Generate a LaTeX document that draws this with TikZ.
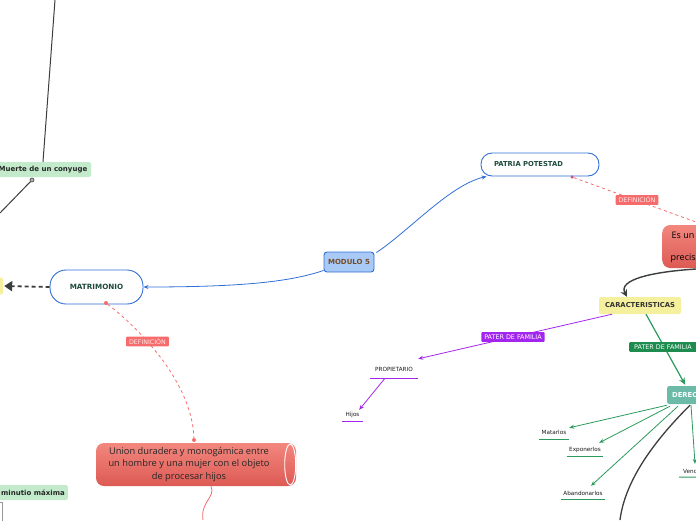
\documentclass[tikz,border=0pt]{standalone}
\usepackage{fontspec}
\setmainfont{DejaVu Sans}
\newfontfamily\osans{Open Sans}
\usetikzlibrary{arrows.meta}
\definecolor{bblue}{HTML}{2F6FD6}
\definecolor{mfill}{HTML}{A9C9F7}
\definecolor{dgreen}{HTML}{1E4A3A}
\definecolor{rlab}{HTML}{F66B6B}
\definecolor{rtop}{HTML}{F2877E}
\definecolor{rbot}{HTML}{DD5A54}
\definecolor{ylw}{HTML}{F4F09E}
\definecolor{prp}{HTML}{A326F0}
\definecolor{glab}{HTML}{1D8C4E}
\definecolor{gline}{HTML}{2A9A5C}
\definecolor{teal}{HTML}{6CBBA8}
\definecolor{lgreen}{HTML}{C3EBCB}
\definecolor{dgray}{HTML}{3A3F3C}
\begin{document}
\begin{tikzpicture}[x=1pt,y=-1pt,
  bluebox/.style={draw=bblue,line width=0.9pt,fill=white,rounded corners=11pt,text=dgreen,font=\bfseries\fontsize{7.2}{8}\selectfont,inner sep=0pt},
  modbox/.style={draw=bblue,line width=0.9pt,fill=mfill,rounded corners=3pt,text=brown!60!black,font=\bfseries\fontsize{7}{8}\selectfont,inner sep=0pt},
  greenbox/.style={fill=lgreen,rounded corners=2pt,text=black!85,font=\bfseries\fontsize{7}{8}\selectfont,inner xsep=3pt,inner ysep=0pt},
  ylwbox/.style={fill=ylw,rounded corners=2pt,text=black!80,font=\bfseries\fontsize{6.8}{8}\selectfont,inner sep=0pt},
  redbox/.style={top color=rtop,bottom color=rbot,draw=none,rounded corners=8pt,inner sep=0pt},
  rlabel/.style={fill=rlab,rounded corners=1pt,text=red!8,font=\fontsize{6.3}{7}\selectfont,inner xsep=3pt,inner ysep=2pt},
  plabel/.style={fill=prp,rounded corners=1pt,text=white,font=\fontsize{6.4}{7}\selectfont,inner xsep=3pt,inner ysep=2.5pt},
  glabel/.style={fill=glab,rounded corners=1pt,text=white!90,font=\fontsize{6.4}{7}\selectfont,inner xsep=5pt,inner ysep=2.5pt},
  leaf/.style={text=black!90,font=\fontsize{5.7}{6}\selectfont,inner sep=0pt},
  bline/.style={draw=bblue,line width=0.8pt,-{Stealth[length=5pt,width=4pt]}},
  darkline/.style={draw=dgray,line width=1pt},
  darkarrow/.style={draw=dgray,line width=1.4pt,-{Stealth[length=7pt,width=7pt]}},
  reddash/.style={draw=rlab,line width=0.8pt,dash pattern=on 3pt off 3pt},
  rdot/.style={circle,fill=rlab,minimum size=4pt,inner sep=0pt},
  parrow/.style={draw=prp,line width=0.8pt,-{Stealth[length=5pt,width=4pt]}},
  garrow/.style={draw=gline,line width=0.8pt,-{Stealth[length=5pt,width=4pt]}},
  garrowb/.style={draw=gline,line width=1.2pt,-{Stealth[length=7pt,width=6pt]}},
]
\useasboundingbox (0,0) rectangle (696,520);

% ---- left top
\node[greenbox,minimum width=96,minimum height=15] (muerte) at (43,169.5) {Muerte de un conyuge};
\node[circle,draw=dgray,fill=gray!60,minimum size=4pt,inner sep=0pt,line width=0.6pt] (mdot) at (32,180) {};
\coordinate (topend) at (55,0);
\coordinate (lowend) at (0,213);
\draw[darkline] (topend) -- (muerte.north);
\draw[darkline] (mdot) -- (lowend);

% ---- matrimonio
\node[bluebox,minimum width=93,minimum height=34,rounded corners=16pt] (mat) at (96.5,287) {MATRIMONIO};
\node[ylwbox,minimum width=20,minimum height=17] (yel) at (-7,286) {};
\draw[draw=dgray,line width=1.8pt,dash pattern=on 4pt off 3pt,-{Triangle[length=8pt,width=10pt]}] (mat.west) -- ([xshift=1pt]yel.east);

% ---- modulo 5
\node[modbox,minimum width=50,minimum height=20] (mod) at (349,262) {MODULO 5};
\node[bluebox,minimum width=118,minimum height=23,text width=92,align=left,font=\bfseries\fontsize{6.8}{8}\selectfont] (pp) at (540,164.5) {PATRIA POTESTAD};
\draw[bline] ([yshift=2pt]mod.south west) .. controls (290,282) and (240,287) .. (mat.east);
\draw[bline] ([xshift=2pt,yshift=-1pt]mod.north east) .. controls (410,230) and (450,185) .. ([xshift=6pt]pp.south west);

% ---- definicion matrimonio
\node[rdot] (d1a) at (106,303) {};
\node[rdot] (d1b) at (194,440) {};
\draw[reddash] (d1a) .. controls (135,325) and (192,380) .. (d1b);
\node[rlabel] (def1) at (147.5,341.5) {DEFINICIÓN};

% ---- union box
\node[redbox,minimum width=200,minimum height=43] (union) at (196,464.5) {};
\draw[white,line width=0.9pt] ([xshift=-6pt]union.east) ellipse (5.5 and 20.5);
\node[font=\osans\fontsize{9.3}{12.4}\selectfont,text=black!85,align=center,inner sep=0pt] (utext) at (189,464.5) {Union duradera y monogámica entre\\un hombre y una mujer con el objeto\\de procesar hijos};
\coordinate (sqend) at (203,520);
\draw[draw=rlab,line width=0.8pt] ([xshift=15pt]union.south) .. controls (216,497) and (200,502) .. (sqend);

% ---- minutio
\node[greenbox,anchor=east,minimum height=15] (minu) at (68,492.5) {minutio máxima};
\node[draw=gray!80,line width=1pt,fill=white,minimum width=20,minimum height=30,anchor=north east,inner sep=0pt] (gbox) at (2.5,502) {};

% ---- patria potestad definicion
\node[rdot,minimum size=3.5pt,fill=rlab!80!blue] (d2a) at (572,177) {};
\coordinate (d2b) at (696,222);
\draw[reddash] (d2a) -- (d2b);
\node[rlabel] (def2) at (637,200) {DEFINICIÓN};

% ---- es un box
\node[redbox,anchor=west,minimum width=50,minimum height=43] (esun) at (662,246.5) {};
\node[font=\osans\fontsize{9}{10}\selectfont,anchor=west,inner sep=0pt] (es1) at (671.5,235) {Es un};
\node[font=\osans\fontsize{9}{10}\selectfont,anchor=west,inner sep=0pt] (es2) at (670.5,258) {precis};

% ---- caracteristicas
\node[ylwbox,minimum width=82,minimum height=17] (car) at (640,305.5) {CARACTERISTICAS};
\coordinate (ccstart) at (696,269);
\draw[darkarrow] (ccstart) .. controls (650,272) and (618,280) .. ([xshift=-13pt]car.north);

% ---- propietario
\node[leaf,minimum width=48,minimum height=18] (prop) at (394,369) {PROPIETARIO};
\draw[draw=prp,line width=1pt] (prop.south west) -- (prop.south east);
\node[leaf,minimum width=21,minimum height=12] (hijos) at (352.5,415) {Hijos};
\draw[draw=prp,line width=1pt] (hijos.south west) -- (hijos.south east);
\draw[parrow] ([xshift=-28pt]car.south) -- ([yshift=1pt]prop.north east);
\node[plabel] (plab) at (513,337) {PATER DE FAMILIA};
\draw[parrow] ([xshift=-9pt]prop.south) -- ([xshift=-4pt,yshift=-1pt]hijos.north east);

% ---- derechos
\node[fill=teal,rounded corners=2pt,anchor=west,minimum width=40,minimum height=18,inner sep=0pt] (der) at (667,395) {};
\node[font=\bfseries\fontsize{6.8}{8}\selectfont,text=white,anchor=west,inner sep=0pt] (dertext) at (672,395) {DEREC};
\draw[garrowb] ([xshift=6pt]car.south) -- ([xshift=-2pt,yshift=1pt]der.north);
\node[glabel,anchor=west] (glab1) at (629,347) {PATER DE FAMILIA};

\node[leaf,minimum width=30,minimum height=14] (mata) at (554,432) {Matarlos};
\draw[draw=gline,line width=1pt] (mata.south west) -- (mata.south east);
\node[leaf,minimum width=36,minimum height=12] (expo) at (585,450) {Exponerlos};
\draw[draw=gline,line width=1pt] (expo.south west) -- (expo.south east);
\node[leaf,minimum width=43,minimum height=12] (aban) at (583,493) {Abandonarlos};
\draw[draw=gline,line width=1pt] (aban.south west) -- (aban.south east);
\node[leaf,anchor=west,inner xsep=4pt,minimum height=12] (vend) at (679,471) {Vend};
\coordinate (vendr) at (700,477);
\draw[draw=gline,line width=1pt] (vend.south west) -- (vendr);

\draw[garrow] ([yshift=-1pt]der.south west) -- ([yshift=-3pt]mata.north east);
\draw[garrow] ([xshift=3pt,yshift=-2pt]der.south west) -- ([xshift=-4pt,yshift=1pt]expo.north east);
\draw[garrow] ([xshift=11pt,yshift=-2pt]der.south west) -- ([xshift=8pt,yshift=1pt]aban.north);
\draw[garrow] ([xshift=24pt,yshift=-1pt]der.south west) -- ([xshift=16pt,yshift=1pt]vend.north west);
\coordinate (bcend) at (620,520);
\draw[darkline,line width=1.3pt] ([xshift=23pt,yshift=-1pt]der.south west) .. controls (655,440) and (625,480) .. (bcend);
\end{tikzpicture}
\end{document}
